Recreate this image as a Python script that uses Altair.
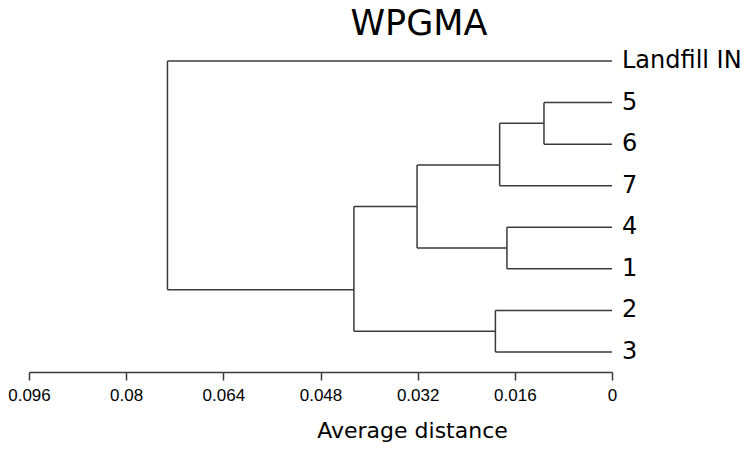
import altair as alt
import pandas as pd

# Leaves, top to bottom, and their row positions
leaves = ["Landfill IN", "5", "6", "7", "4", "1", "2", "3"]
leaf_pos = [0, 1, 2, 3, 4, 5, 6, 7]

# Merges (WPGMA), with joining distance and drawn row position
node_names = ["D", "E", "C", "F", "B", "A", "Root"]
node_left = ["5", "4", "D", "2", "C", "B", "Landfill IN"]
node_right = ["6", "1", "7", "3", "E", "F", "A"]
node_height = [0.0112, 0.0173, 0.0185, 0.0192, 0.0321, 0.0425, 0.0732]
node_pos = [1.5, 4.5, 2.5, 6.5, 3.5, 5.5, 2.75]

tick_values = [0.096, 0.08, 0.064, 0.048, 0.032, 0.016, 0]
chart_title = ["WPGMA"]

height_of = {name: 0.0 for name in leaves}
pos_of = dict(zip(leaves, leaf_pos))
for n, h, p in zip(node_names, node_height, node_pos):
    height_of[n] = h
    pos_of[n] = p

segs = []
for n, l, r, h in zip(node_names, node_left, node_right, node_height):
    segs.append({"x": h, "x2": h, "y": pos_of[l], "y2": pos_of[r]})
    for c in (l, r):
        segs.append({"x": height_of[c], "x2": h, "y": pos_of[c], "y2": pos_of[c]})
seg_df = pd.DataFrame(segs)
leaf_df = pd.DataFrame({"label": leaves, "pos": leaf_pos, "d": [0.0] * len(leaves)})
title_df = pd.DataFrame({"t": chart_title})

xscale = alt.Scale(domain=[0.096, 0], nice=False, zero=False)
yscale = alt.Scale(domain=[-0.2646, 7.4811], reverse=True, nice=False, zero=False)

line_color = "#3a3a3a"

lines = alt.Chart(seg_df).mark_rule(color=line_color, strokeWidth=1.5).encode(
    x=alt.X(
        "x:Q",
        scale=xscale,
        axis=alt.Axis(
            values=tick_values,
            format="~g",
            title="Average distance",
            titleFont="DejaVu Sans",
            titleFontSize=22,
            titleFontWeight="normal",
            titleColor="black",
            titleX=383,
            titleY=65,
            titleBaseline="alphabetic",
            titleAlign="center",
            labelFont="Liberation Sans",
            labelFontSize=17,
            labelColor="black",
            labelPadding=7,
            tickSize=8,
            tickColor=line_color,
            tickWidth=1.5,
            domainColor=line_color,
            domainWidth=1.5,
            grid=False,
            labelFlush=False,
        ),
    ),
    x2="x2:Q",
    y=alt.Y("y:Q", scale=yscale, axis=None),
    y2="y2:Q",
)

labels = alt.Chart(leaf_df).mark_text(
    align="left", baseline="middle", dx=10, font="DejaVu Sans", fontSize=24, color="black"
).encode(
    x=alt.X("d:Q", scale=xscale),
    y=alt.Y("pos:Q", scale=yscale, axis=None),
    text="label:N",
)

title = alt.Chart(title_df).mark_text(
    align="center", baseline="alphabetic", font="DejaVu Sans", fontSize=35, color="black"
).encode(
    x=alt.value(390),
    y=alt.value(-15),
    text="t:N",
)

chart = (
    alt.layer(lines, labels, title)
    .properties(
        width=583,
        height=322,
        padding={"left": 21, "top": 42, "right": 130, "bottom": 72},
        autosize=alt.AutoSizeParams(type="none"),
        view=alt.ViewBackground(stroke="transparent", fill="white"),
    )
    .configure_view(stroke="transparent", strokeWidth=0)
    .configure(background="white")
)

chart.save("out.html", embed_options={"renderer": "svg", "actions": False})
